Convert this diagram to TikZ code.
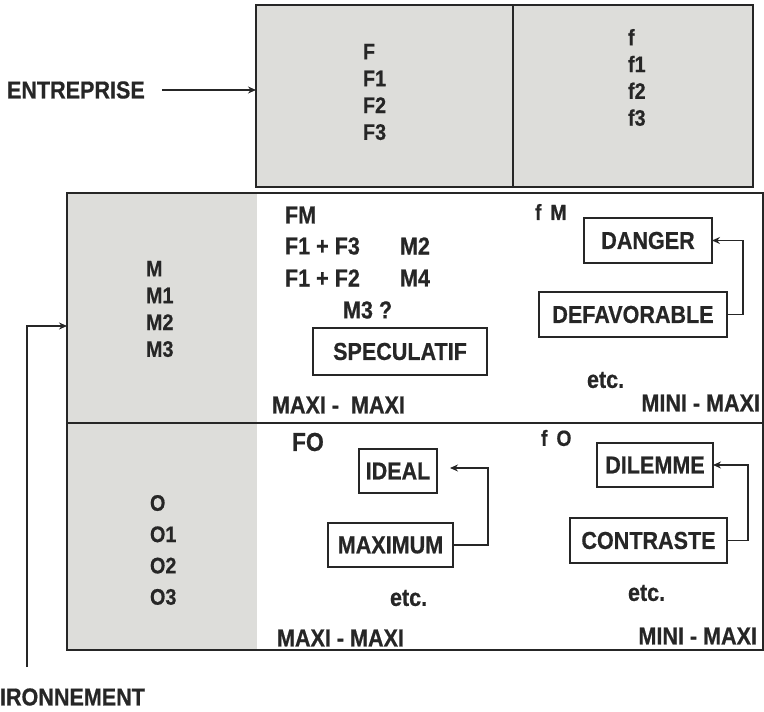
\documentclass[tikz,border=0pt]{standalone}
\usepackage{fontspec}
\setmainfont{Liberation Sans}[FakeStretch=0.88, BoldFeatures={FakeBold=0.6}]
\usetikzlibrary{arrows.meta}
\definecolor{panel}{RGB}{221,221,218}
\definecolor{ink}{RGB}{38,38,38}
\begin{document}
\begin{tikzpicture}[x=1pt,y=-1pt,
  every node/.style={text=ink, inner sep=0pt, outer sep=0pt},
  txt/.style={font=\bfseries\fontsize{24.5}{28}\selectfont, anchor=west},
  small/.style={font=\bfseries\fontsize{22}{26}\selectfont, anchor=west},
  listA/.style={font=\bfseries\fontsize{22.5}{26.8}\selectfont, align=left, anchor=west},
  listO/.style={font=\bfseries\fontsize{22.5}{31.3}\selectfont, align=left, anchor=west},
  frame/.style={draw=ink, line width=1.6pt},
  tag/.style={draw=ink, line width=1.4pt, font=\bfseries\fontsize{24.5}{28}\selectfont},
  conn/.style={draw=ink, line width=1.4pt, -{Stealth[length=8pt,width=7pt]}},
  link/.style={draw=ink, line width=1.4pt}]
\useasboundingbox (0,0) rectangle (764,712);

% top box (entreprise)
\node[frame, fill=panel, minimum width=497pt, minimum height=182pt] (topbox) at (504.5,96) {};
\draw[frame] (513,5) -- (513,187);
\node[txt] (ent) at (7,90) {ENTREPRISE};
\draw[conn] ([xshift=17pt]ent.east) -- (ent.east -| topbox.west);
\node[listA] (Fcol) at (363,92) {F\\F1\\F2\\F3};
\node[listA] (fcol) at (628,77.5) {f\\f1\\f2\\f3};

% main box (environnement)
\fill[panel] (67,193) rectangle (257,650);
\node[frame, minimum width=696pt, minimum height=457pt] (mainbox) at (415,421.5) {};
\draw[frame] (mainbox.west |- 0,423) -- (mainbox.east |- 0,423);
\node[listA] (Mcol) at (146,309) {M\\M1\\M2\\M3};
\node[listO] (Ocol) at (150,550) {O\\O1\\O2\\O3};

% environment arrow
\coordinate (envstart) at (27,667);
\coordinate (envend) at (67,326);
\draw[conn] (envstart) |- (envend);
\node[txt] (env) at (0,697) {IRONNEMENT};

% FM quadrant
\node[txt] (FM) at (285,215) {FM};
\node[txt] (F13) at (285,246) {F1 + F3};
\node[txt] (F12) at (285,278) {F1 + F2};
\node[txt] (M2) at (400,246) {M2};
\node[txt] (M4) at (400,278) {M4};
\node[txt] (M3q) at (343,310) {M3 ?};
\node[tag, minimum width=174pt, minimum height=47pt] (spec) at (400,351.5) {SPECULATIF};
\node[txt] (mm1) at (272,405) {MAXI -\ \ MAXI};

% fM quadrant
\node[small] (fM) at (535,212) {f\hspace{9pt}M};
\node[tag, minimum width=128pt, minimum height=45pt] (danger) at (648,240.5) {DANGER};
\node[tag, minimum width=188pt, minimum height=45pt] (defav) at (633,314.5) {DEFAVORABLE};
\draw[conn] (defav.east) -- ++(16,0) |- (danger.east);
\node[txt] (etc1) at (587,380) {etc.};
\node[txt, anchor=east] (mm2) at (760,403) {MINI - MAXI};

% FO quadrant
\node[txt, font=\bfseries\fontsize{26}{30}\selectfont] (FO) at (292,442) {FO};
\node[tag, minimum width=78pt, minimum height=44pt] (ideal) at (398,471) {IDEAL};
\node[tag, minimum width=125pt, minimum height=44pt] (maxim) at (390.5,545) {MAXIMUM};
\coordinate (idealin) at (450,468);
\draw[conn] (maxim.east) -- ++(35,0) |- (idealin);
\node[txt] (etc2) at (390,598) {etc.};
\node[txt] (mm3) at (277,638) {MAXI - MAXI};

% fO quadrant
\node[small] (fO) at (541,438) {f\hspace{9pt}O};
\node[tag, minimum width=116pt, minimum height=44pt] (dilem) at (655,465) {DILEMME};
\node[tag, minimum width=157pt, minimum height=45pt] (contr) at (648.5,540.5) {CONTRASTE};
\draw[conn] (contr.east) -- ++(21,0) |- (dilem.east);
\node[txt] (etc3) at (628,593) {etc.};
\node[txt, anchor=east] (mm4) at (757,636) {MINI - MAXI};
\end{tikzpicture}
\end{document}
